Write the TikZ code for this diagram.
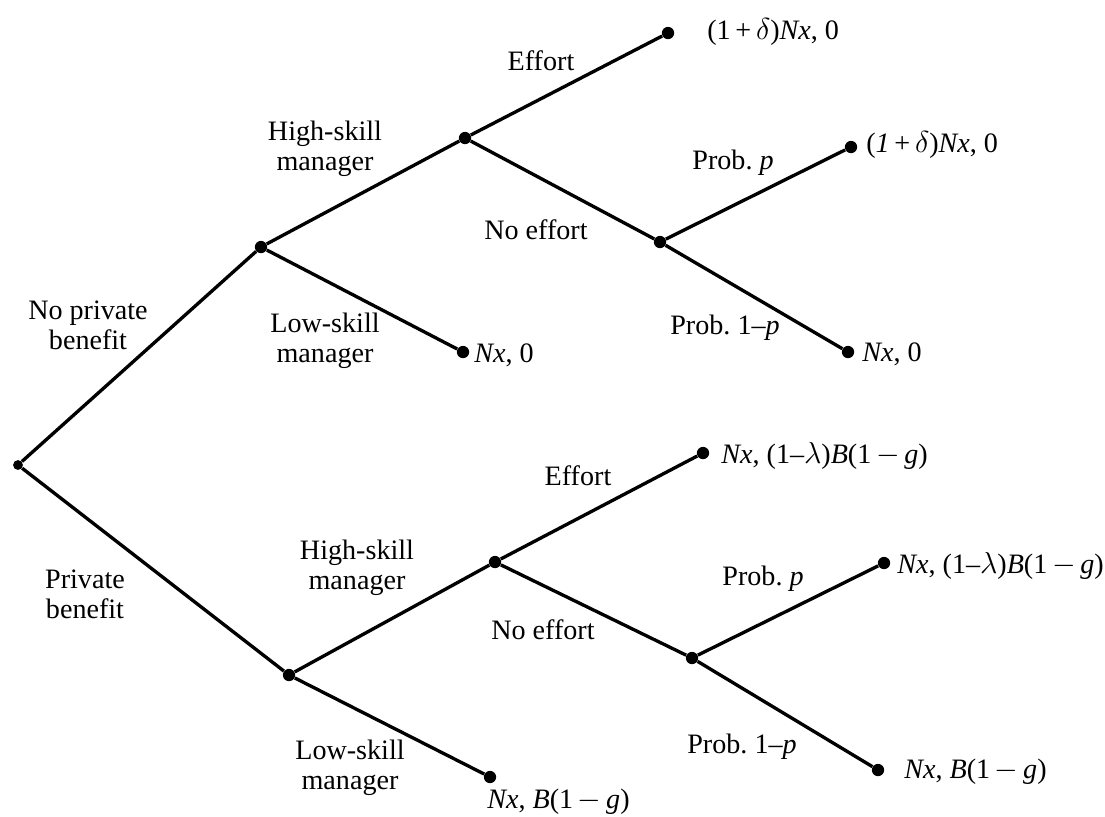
\documentclass[tikz,border=0pt]{standalone}
\usepackage{fontspec}
\setmainfont{Liberation Serif}
\begin{document}
\begin{tikzpicture}[x=0.02cm, y=-0.02cm,
        dot/.style={circle, fill=black, inner sep=0pt, minimum size=7pt},
        branch/.style={line width=1.9pt},
        lbl/.style={align=center, inner sep=0pt, font=\fontsize{16}{17}\selectfont},
        payoff/.style={anchor=west, inner sep=0pt, font=\fontsize{16}{17}\selectfont}]
        \useasboundingbox (0,0) rectangle (1105,816);

        % Nodos de decision
        \node[dot, minimum size=5.6pt] (root) at (18,465) {};
        \node[dot] (nopb) at (261,247) {};
        \node[dot] (nphs) at (465,138) {};
        \node[dot] (npne) at (660,242) {};
        \node[dot] (pb) at (289,675) {};
        \node[dot] (phs) at (495,562) {};
        \node[dot] (pne) at (692,658) {};

        % Nodos terminales
        \node[dot] (t1) at (668,33) {};
        \node[dot] (t2) at (851,147) {};
        \node[dot] (t3) at (848,352) {};
        \node[dot] (t4) at (463,352) {};
        \node[dot] (t5) at (703,453) {};
        \node[dot] (t6) at (884,563) {};
        \node[dot] (t7) at (878,770) {};
        \node[dot] (t8) at (490,777) {};

        % Ramas
        \draw[branch] (root) -- (nopb);
        \draw[branch] (nopb) -- (nphs);
        \draw[branch] (nopb) -- (t4);
        \draw[branch] (nphs) -- (t1);
        \draw[branch] (nphs) -- (npne);
        \draw[branch] (npne) -- (t2);
        \draw[branch] (npne) -- (t3);
        \draw[branch] (root) -- (pb);
        \draw[branch] (pb) -- (phs);
        \draw[branch] (pb) -- (t8);
        \draw[branch] (phs) -- (t5);
        \draw[branch] (phs) -- (pne);
        \draw[branch] (pne) -- (t6);
        \draw[branch] (pne) -- (t7);

        % Etiquetas de ramas
        \node[lbl] (lnopb) at (88,325) {No private\\benefit};
        \node[lbl] (lpb) at (85,594) {Private\\benefit};
        \node[lbl] (lhs1) at (325,149) {High-skill\\manager};
        \node[lbl] (lls1) at (325,341) {Low-skill\\manager};
        \node[lbl] (lef1) at (541,61) {Effort};
        \node[lbl] (lne1) at (536,230) {No effort};
        \node[lbl] (lp1) at (733,163) {Prob.\ \textit{p}};
        \node[lbl] (lq1) at (725,328) {Prob.\ 1\textendash\textit{p}};
        \node[lbl] (lhs2) at (357,568) {High-skill\\manager};
        \node[lbl] (lls2) at (350,768) {Low-skill\\manager};
        \node[lbl] (lef2) at (578,476) {Effort};
        \node[lbl] (lne2) at (543,630) {No effort};
        \node[lbl] (lp2) at (763,579) {Prob.\ \textit{p}};
        \node[lbl] (lq2) at (742,747) {Prob.\ 1\textendash\textit{p}};

        % Pagos
        \node[payoff] (p1) at (707,32) {(1\,+\,$\delta$)\textit{Nx}, 0};
        \node[payoff] (p2) at (866,145) {(\textit{1}\,+\,$\delta$)\textit{Nx}, 0};
        \node[payoff] (p3) at (862,354) {\textit{Nx}, 0};
        \node[payoff] (p4) at (474,355) {\textit{Nx}, 0};
        \node[payoff] (p5) at (721,456) {\textit{Nx}, (1\textendash$\lambda$)\textit{B}(1\,$-$\,\textit{g})};
        \node[payoff] (p6) at (897,566) {\textit{Nx}, (1\textendash$\lambda$)\textit{B}(1\,$-$\,\textit{g})};
        \node[payoff] (p7) at (904,772) {\textit{Nx}, \textit{B}(1\,$-$\,\textit{g})};
        \node[payoff] (p8) at (487,802) {\textit{Nx}, \textit{B}(1\,$-$\,\textit{g})};
    \end{tikzpicture}
\end{document}
